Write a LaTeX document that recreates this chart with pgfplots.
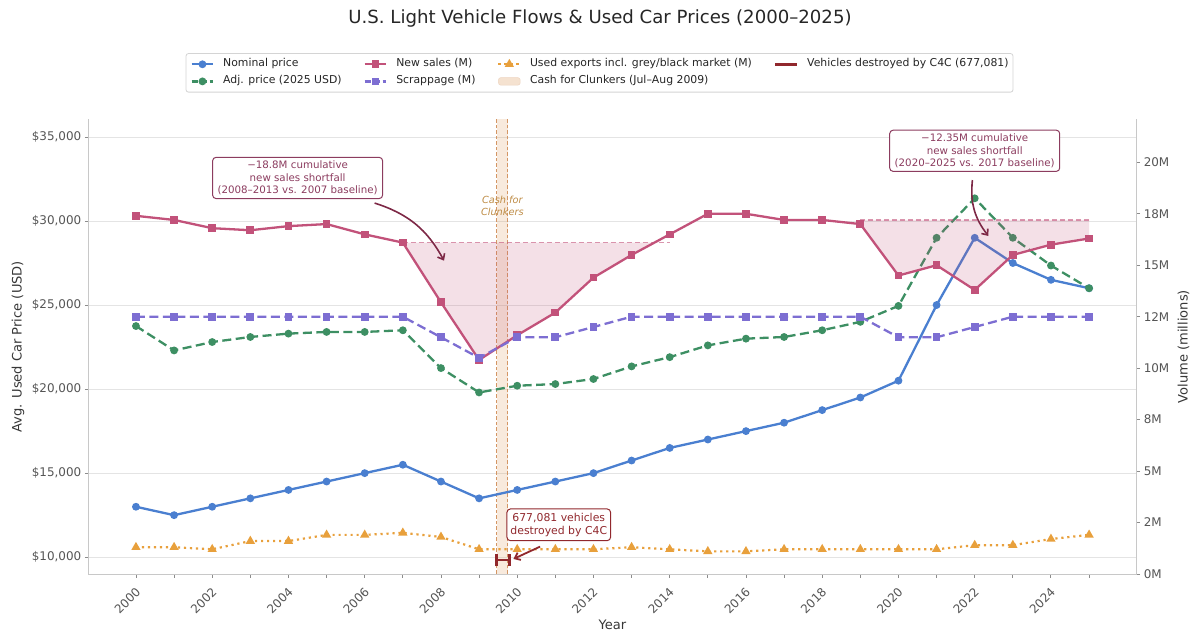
\documentclass[border=0pt]{standalone}
\usepackage{fontspec}
\setmainfont{DejaVu Sans}
\usepackage{pgfplots}
\usepackage{pgfplotstable}
\pgfplotsset{compat=1.18}
\usetikzlibrary{arrows.meta}

\definecolor{cBlue}{RGB}{74,127,208}
\definecolor{cGreen}{RGB}{61,143,99}
\definecolor{cRed}{RGB}{194,82,122}
\definecolor{cPurple}{RGB}{125,110,210}
\definecolor{cOrange}{RGB}{232,160,60}
\definecolor{cBand}{RGB}{222,160,100}
\definecolor{cBandEdge}{RGB}{212,150,100}
\definecolor{cCfC}{RGB}{190,140,70}
\definecolor{cAnn}{RGB}{140,60,95}
\definecolor{cArrow}{RGB}{125,40,70}
\definecolor{cDark}{RGB}{145,40,45}
\definecolor{cGrid}{RGB}{228,228,228}
\definecolor{cSpine}{RGB}{200,200,200}
\definecolor{cTick}{RGB}{85,85,85}
\definecolor{cLabel}{RGB}{55,55,55}

\pgfplotstableread{
year nominal adj
2000 13000 23750
2001 12500 22300
2002 13000 22800
2003 13500 23100
2004 14000 23300
2005 14500 23400
2006 15000 23400
2007 15500 23500
2008 14500 21250
2009 13500 19800
2010 14000 20200
2011 14500 20300
2012 15000 20600
2013 15750 21350
2014 16500 21900
2015 17000 22600
2016 17500 23000
2017 18000 23100
2018 18750 23500
2019 19500 24000
2020 20500 24950
2021 25000 29000
2022 29000 31350
2023 27500 29000
2024 26500 27350
2025 26000 26000
}\prices

\pgfplotstableread{
year sales scrap exports
2000 17.4 12.5 1.3
2001 17.2 12.5 1.3
2002 16.8 12.5 1.2
2003 16.7 12.5 1.6
2004 16.9 12.5 1.6
2005 17.0 12.5 1.9
2006 16.5 12.5 1.9
2007 16.1 12.5 2.0
2008 13.2 11.5 1.8
2009 10.4 10.5 1.2
2010 11.6 11.5 1.2
2011 12.7 11.5 1.2
2012 14.4 12.0 1.2
2013 15.5 12.5 1.3
2014 16.5 12.5 1.2
2015 17.5 12.5 1.1
2016 17.5 12.5 1.1
2017 17.2 12.5 1.2
2018 17.2 12.5 1.2
2019 17.0 12.5 1.2
2020 14.5 11.5 1.2
2021 15.0 11.5 1.2
2022 13.8 12.0 1.4
2023 15.5 12.5 1.4
2024 16.0 12.5 1.7
2025 16.3 12.5 1.9
}\volumes

\pgfplotsset{
  base/.style={
    width=1048.4bp, height=454.7bp, scale only axis,
    at={(88.3bp,69bp)}, anchor=south west,
    xmin=1998.75, xmax=2026.25,
    axis line style={cSpine, line width=0.9bp},
    tick style={black!45, line width=0.8bp},
    major tick length=3.5bp,
    tick align=outside,
    tick label style={font=\fontsize{12}{14}\selectfont, text=cTick},
    label style={font=\fontsize{13.1}{15}\selectfont, text=cLabel},
    scaled ticks=false,
  },
  rectlegend/.style={legend image code/.code={\draw[##1] (0bp,-3.8bp) rectangle (21.8bp,3.8bp);}},
  linelegend/.style={legend image code/.code={\draw[mark repeat=2,mark phase=2,##1] plot coordinates {(0bp,0bp) (10.9bp,0bp) (21.8bp,0bp)};}},
}

\begin{document}
\begin{tikzpicture}
\path[use as bounding box] (0bp,0bp) rectangle (1200bp,643bp);
\node[font=\fontsize{18.2}{21}\selectfont, text=black!85, anchor=center] at (600bp,624bp)
  {U.S. Light Vehicle Flows \& Used Car Prices (2000–2025)};

% ---------- left axis: prices ----------
\begin{axis}[base,
  axis x line*=bottom, axis y line*=left,
  xtick={2000,...,2025},
  xticklabels={2000,,2002,,2004,,2006,,2008,,2010,,2012,,2014,,2016,,2018,,2020,,2022,,2024,},
  xticklabel style={rotate=45, anchor=north east, inner sep=1bp, xshift=-6bp, yshift=-4.5bp},
  ymin=9000, ymax=36050,
  ytick={10000,15000,20000,25000,30000,35000},
  yticklabels={{\$10,000},{\$15,000},{\$20,000},{\$25,000},{\$30,000},{\$35,000}},
  ymajorgrids, grid style={cGrid, line width=0.8bp},
  xlabel={Year},
  xlabel style={at={(axis description cs:0.5,-0.112)}, anchor=center},
  ylabel={Avg. Used Car Price (USD)},
  ylabel style={at={(axis description cs:-0.067,0.5)}, anchor=center, rotate=0},
]
\addplot[draw=none, fill=cBand, fill opacity=0.22, forget plot]
  coordinates {(2009.46,9000) (2009.75,9000) (2009.75,36050) (2009.46,36050)} -- cycle;
\addplot[cBandEdge, dash pattern=on 3.5bp off 2bp, line width=0.9bp, forget plot]
  coordinates {(2009.46,9000) (2009.46,36050)};
\addplot[cBandEdge, dash pattern=on 3.5bp off 2bp, line width=0.9bp, forget plot]
  coordinates {(2009.75,9000) (2009.75,36050)};
\addplot[cBlue, line width=2.3bp, mark=*, mark size=2.7bp, forget plot]
  table[x=year, y=nominal] {\prices};
\addplot[cGreen, line width=2.3bp, dash pattern=on 9bp off 4.5bp, mark=*, mark size=2.7bp,
  mark options={solid}, forget plot]
  table[x=year, y=adj] {\prices};
\end{axis}

% ---------- right axis: volumes ----------
\begin{axis}[base,
  axis y line*=right, axis x line=none,
  xtick=\empty,
  ymin=0, ymax=22.09,
  ytick={0,2.5,5,7.5,10,12.5,15,17.5,20},
  yticklabels={0M,2M,5M,8M,10M,12M,15M,18M,20M},
  ylabel={Volume (millions)},
  ylabel style={at={(axis description cs:1.0447,0.5)}, anchor=center, rotate=0},
  legend columns=4,
  legend cell align=left,
  legend style={
    at={(0.4876,1.1455)}, anchor=north,
    draw=black!17, line width=0.8bp, rounded corners=2.5bp, fill=white,
    font=\fontsize{10.9}{13}\selectfont, text=black!85,
    inner xsep=4.4bp, inner ysep=5.3bp,
    row sep=6.2bp, column sep=0bp,
    nodes={inner sep=0bp, text height=8.0bp, text depth=2.9bp},
    /tikz/every odd column/.append style={column sep=8.7bp},
    /tikz/every even column/.append style={column sep=21.8bp},
  },
]
% shortfall fills
\addplot[draw=none, fill=cRed, fill opacity=0.18, forget plot] coordinates {
 (2007,16.1) (2008,13.2) (2009,10.4) (2010,11.6) (2011,12.7) (2012,14.4) (2013,15.5) (2013.6,16.1)} -- cycle;
\addplot[draw=none, fill=cRed, fill opacity=0.18, forget plot] coordinates {
 (2019,17.2) (2019,17.0) (2020,14.5) (2021,15.0) (2022,13.8) (2023,15.5) (2024,16.0) (2025,16.3) (2025,17.2)} -- cycle;
% baselines
\addplot[cRed, opacity=0.6, line width=1.2bp, dash pattern=on 5bp off 3bp, forget plot]
  coordinates {(2007,16.1) (2014,16.1)};
\addplot[cRed, opacity=0.6, line width=1.2bp, dash pattern=on 5bp off 3bp, forget plot]
  coordinates {(2019,17.2) (2025,17.2)};
% series
\addplot[cRed, line width=2.3bp, mark=square*, mark size=2.7bp, forget plot]
  table[x=year, y=sales] {\volumes};
\addplot[cPurple, line width=2.3bp, dash pattern=on 9bp off 4.5bp, mark=square*, mark size=2.7bp,
  mark options={solid}, forget plot]
  table[x=year, y=scrap] {\volumes};
\addplot[cOrange, line width=2.2bp, dash pattern=on 2.2bp off 3.8bp, mark=triangle*, mark size=3.2bp,
  mark options={solid}, forget plot]
  table[x=year, y=exports] {\volumes};
% C4C destroyed marker
\addplot[cDark, line width=2.6bp, forget plot] coordinates {(2009.46,0.677) (2009.80,0.677)};
\addplot[cDark, line width=2.6bp, forget plot] coordinates {(2009.46,0.37) (2009.46,0.98)};
\addplot[cDark, line width=2.6bp, forget plot] coordinates {(2009.80,0.37) (2009.80,0.98)};

% annotations
\node[font=\itshape\fontsize{9.8}{11.7}\selectfont, text=cCfC, align=center]
  at (axis cs:2009.61,17.88) {Cash for\\Clunkers};
\node[draw=cAnn, line width=1bp, rounded corners=3.5bp, fill=white, text=cAnn, align=center,
  font=\fontsize{10.3}{12.3}\selectfont, inner xsep=5bp, inner ysep=3.8bp]
  at (axis cs:2004.24,19.24) {−18.8M cumulative\\new sales shortfall\\(2008–2013 vs. 2007 baseline)};
\node[draw=cAnn, line width=1bp, rounded corners=3.5bp, fill=white, text=cAnn, align=center,
  font=\fontsize{10.3}{12.3}\selectfont, inner xsep=5bp, inner ysep=3.8bp]
  at (axis cs:2022.0,20.56) {−12.35M cumulative\\new sales shortfall\\(2020–2025 vs. 2017 baseline)};
\node[draw=cDark, line width=1bp, rounded corners=3.5bp, fill=white, text=cDark, align=center,
  font=\fontsize{10.9}{13.3}\selectfont, inner xsep=3.5bp, inner ysep=4bp]
  at (axis cs:2011.09,2.39) {677,081 vehicles\\destroyed by C4C};
\draw[cArrow, line width=1.6bp, -{Straight Barb[length=5bp,width=8bp]}]
  (axis cs:2006.26,18.02) to[bend left=22] (axis cs:2008.08,15.22);
\draw[cArrow, line width=1.6bp, -{Straight Barb[length=5bp,width=8bp]}]
  (axis cs:2021.94,19.14) to[bend right=22] (axis cs:2022.36,16.42);
\draw[cDark, line width=1.8bp, -{Straight Barb[length=5bp,width=8bp]}]
  (axis cs:2010.60,1.33) -- (axis cs:2009.90,0.73);

% legend (row-wise order reproduces the column-wise reference layout)
\addlegendimage{linelegend, cBlue, line width=2.3bp, mark=*, mark size=2.7bp}
\addlegendentry{Nominal price}
\addlegendimage{linelegend, cRed, line width=2.3bp, mark=square*, mark size=2.7bp}
\addlegendentry{New sales (M)}
\addlegendimage{linelegend, cOrange, line width=2.2bp, dash pattern=on 2.2bp off 3.8bp, mark=triangle*, mark size=3.2bp, mark options={solid}}
\addlegendentry{Used exports incl. grey/black market (M)}
\addlegendimage{linelegend, cDark, line width=3bp}
\addlegendentry{Vehicles destroyed by C4C (677,081)}
\addlegendimage{linelegend, cGreen, line width=2.3bp, dash pattern=on 6bp off 3bp, mark=*, mark size=2.7bp, mark options={solid}}
\addlegendentry{Adj. price (2025 USD)}
\addlegendimage{linelegend, cPurple, line width=2.3bp, dash pattern=on 6bp off 3bp, mark=square*, mark size=2.7bp, mark options={solid}}
\addlegendentry{Scrappage (M)}
\addlegendimage{rectlegend, fill=cBand, fill opacity=0.3, draw=cBandEdge!40, line width=0.5bp}
\addlegendentry{Cash for Clunkers (Jul–Aug 2009)}
\end{axis}
\end{tikzpicture}
\end{document}
